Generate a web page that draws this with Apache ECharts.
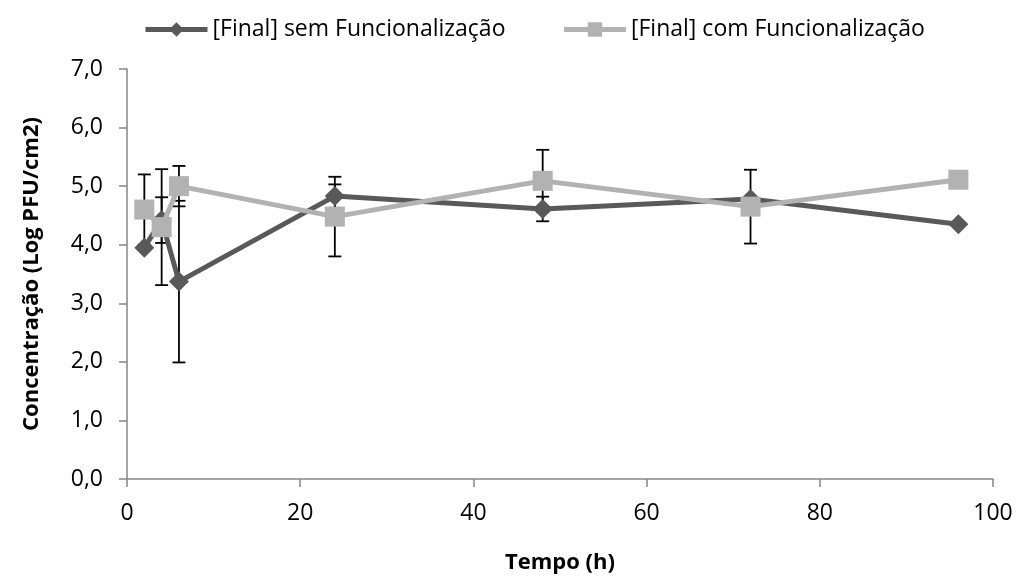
<!DOCTYPE html>
<html>
<head>
<meta charset="utf-8">
<script src="https://cdn.jsdelivr.net/npm/echarts@6/dist/echarts.min.js"></script>
<style>
  html, body { margin: 0; padding: 0; background: #ffffff; }
  #chart { width: 1016px; height: 579px; }
</style>
</head>
<body>
<div id="chart"></div>
<script>
const tempo = [2, 4, 6, 24, 48, 72, 96];
const semFunc = [3.95, 4.42, 3.37, 4.83, 4.61, 4.78, 4.35];
const semFuncErr = [0, 0.39, 1.38, 0.20, 0.21, 0, 0];
const comFunc = [4.60, 4.30, 5.00, 4.48, 5.09, 4.65, 5.11];
const comFuncErr = [0.60, 0.99, 0.345, 0.68, 0.53, 0.63, 0];
const seriesNames = ['[Final] sem Funcionalização', '[Final] com Funcionalização'];
const xTitle = 'Tempo (h)';
const yTitle = 'Concentração (Log PFU/cm2)';

const FONT = '"Open Sans", "Noto Sans", sans-serif';
const DARK = '#595959';
const LIGHT = '#b2b2b2';

function errData(xs, ys, es) {
  const out = [];
  for (let i = 0; i < xs.length; i++) {
    if (es[i] > 0) out.push([xs[i], ys[i] - es[i], ys[i] + es[i]]);
  }
  return out;
}

function errRender(params, api) {
  const x = api.value(0);
  const lo = api.coord([x, api.value(1)]);
  const hi = api.coord([x, api.value(2)]);
  const hw = 6.5;
  const style = { stroke: '#000000', lineWidth: 1.8, fill: null };
  return {
    type: 'group',
    children: [
      { type: 'line', shape: { x1: lo[0], y1: lo[1], x2: hi[0], y2: hi[1] }, style: style },
      { type: 'line', shape: { x1: lo[0] - hw, y1: lo[1], x2: lo[0] + hw, y2: lo[1] }, style: style },
      { type: 'line', shape: { x1: hi[0] - hw, y1: hi[1], x2: hi[0] + hw, y2: hi[1] }, style: style }
    ]
  };
}

const chart = echarts.init(document.getElementById('chart'), null, { renderer: 'canvas' });
chart.setOption({
  animation: false,
  backgroundColor: '#ffffff',
  legend: {
    top: 13,
    left: 138,
    itemWidth: 62,
    itemHeight: 18,
    itemGap: 56,
    lineStyle: { width: 5 },
    textStyle: { fontFamily: FONT, fontSize: 23, color: '#000000' },
    data: seriesNames
  },
  grid: { left: 127, right: 23, top: 69, bottom: 95, containLabel: false },
  xAxis: {
    type: 'value', min: 0, max: 100, interval: 20,
    name: xTitle, nameLocation: 'middle', nameGap: 73,
    nameTextStyle: { fontFamily: FONT, fontSize: 22, fontWeight: 'bold', color: '#000000' },
    axisLine: { show: true, lineStyle: { color: '#868686', width: 1.5 } },
    axisTick: { show: true, length: 8, lineStyle: { color: '#868686', width: 1.5 } },
    axisLabel: { fontFamily: FONT, fontSize: 23, color: '#000000', margin: 23 },
    splitLine: { show: false }
  },
  yAxis: {
    type: 'value', min: 0, max: 7, interval: 1,
    name: yTitle, nameLocation: 'middle', nameGap: 84, nameRotate: 90,
    nameTextStyle: { fontFamily: FONT, fontSize: 22, fontWeight: 'bold', color: '#000000' },
    axisLine: { show: true, lineStyle: { color: '#868686', width: 1.5 } },
    axisTick: { show: true, length: 8, lineStyle: { color: '#868686', width: 1.5 } },
    axisLabel: {
      fontFamily: FONT, fontSize: 23, color: '#000000', margin: 24,
      formatter: function (v) { return v.toFixed(1).replace('.', ','); }
    },
    splitLine: { show: false }
  },
  series: [
    {
      type: 'custom', name: 'errSem', renderItem: errRender, z: 1,
      data: errData(tempo, semFunc, semFuncErr), silent: true
    },
    {
      type: 'custom', name: 'errCom', renderItem: errRender, z: 1,
      data: errData(tempo, comFunc, comFuncErr), silent: true
    },
    {
      name: seriesNames[0], type: 'line', z: 3,
      data: tempo.map((t, i) => [t, semFunc[i]]),
      symbol: 'diamond', symbolSize: 20, showAllSymbol: true,
      lineStyle: { color: DARK, width: 5 },
      itemStyle: { color: DARK, borderWidth: 0 }
    },
    {
      name: seriesNames[1], type: 'line', z: 4,
      data: tempo.map((t, i) => [t, comFunc[i]]),
      symbol: 'rect', symbolSize: 20, showAllSymbol: true,
      lineStyle: { color: LIGHT, width: 5 },
      itemStyle: { color: LIGHT, borderWidth: 0 }
    }
  ]
});
</script>
</body>
</html>
